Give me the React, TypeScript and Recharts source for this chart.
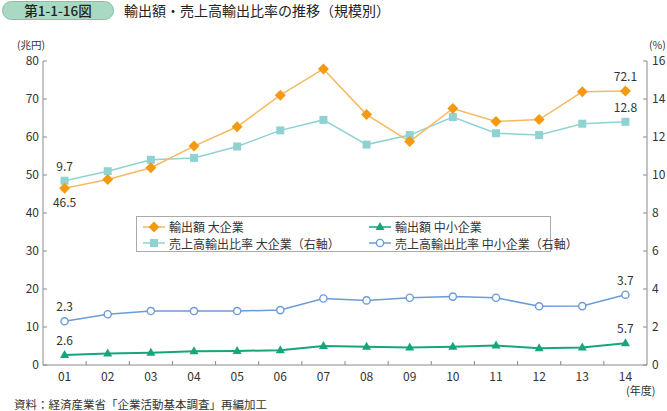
import React from 'react';
import { LineChart, Line, XAxis, YAxis, Legend, LabelList } from 'recharts';

const years = ['01', '02', '03', '04', '05', '06', '07', '08', '09', '10', '11', '12', '13', '14'];
// 兆円 (left axis)
const largeExport = [46.5, 48.8, 51.9, 57.6, 62.7, 71.0, 77.9, 65.9, 58.8, 67.5, 64.1, 64.6, 71.9, 72.1];
const smallExport = [2.6, 3.0, 3.2, 3.6, 3.7, 3.9, 5.0, 4.8, 4.6, 4.8, 5.1, 4.4, 4.6, 5.7];
// % (right axis)
const largeRatio = [9.7, 10.2, 10.8, 10.9, 11.5, 12.35, 12.9, 11.6, 12.1, 13.05, 12.2, 12.1, 12.7, 12.8];
const smallRatio = [2.3, 2.67, 2.84, 2.84, 2.84, 2.89, 3.5, 3.4, 3.54, 3.6, 3.54, 3.09, 3.1, 3.7];

const leftTicks = [0, 10, 20, 30, 40, 50, 60, 70, 80];
const rightTicks = [0, 2, 4, 6, 8, 10, 12, 14, 16];

const data = years.map((year, i) => ({
  year,
  largeExport: largeExport[i],
  smallExport: smallExport[i],
  largeRatio: largeRatio[i],
  smallRatio: smallRatio[i],
}));

const FONT = '"Noto Sans CJK JP", "Noto Sans", sans-serif';
const TEXT = '#333';
const AXIS = '#8a8a8a';

const W = 667;
const H = 411;
const PLOT_L = 43;
const PLOT_R = 647;
const HALF_BAND = (PLOT_R - PLOT_L) / years.length / 2;

const C = {
  orangeLine: '#f6b960',
  orange: '#f39a12',
  teal: '#90d2d2',
  green: '#17a57c',
  blue: '#6b9bd8',
};

const diamondDot = (p: any) => {
  const { cx, cy, index } = p;
  if (cx == null || cy == null) return <g key={`dm-${index}`} />;
  return (
    <path key={`dm-${index}`} d={`M${cx},${cy - 5.5}L${cx + 5.5},${cy}L${cx},${cy + 5.5}L${cx - 5.5},${cy}Z`} fill={C.orange} />
  );
};
const squareDot = (p: any) => {
  const { cx, cy, index } = p;
  if (cx == null || cy == null) return <g key={`sq-${index}`} />;
  return <rect key={`sq-${index}`} x={cx - 4} y={cy - 4} width={8} height={8} fill={C.teal} />;
};
const triDot = (p: any) => {
  const { cx, cy, index } = p;
  if (cx == null || cy == null) return <g key={`tr-${index}`} />;
  return <path key={`tr-${index}`} d={`M${cx},${cy - 5}L${cx + 4.5},${cy + 3}L${cx - 4.5},${cy + 3}Z`} fill={C.green} />;
};
const circleDot = (p: any) => {
  const { cx, cy, index } = p;
  if (cx == null || cy == null) return <g key={`ci-${index}`} />;
  return <circle key={`ci-${index}`} cx={cx} cy={cy} r={3.6} fill="#fff" stroke={C.blue} strokeWidth={1.4} />;
};

const endLabel = (dyFirst: number, dyLast: number) => (props: any) => {
  const { x, y, value, index } = props;
  if (index !== 0 && index !== years.length - 1) return null;
  const dy = index === 0 ? dyFirst : dyLast;
  return (
    <text x={x} y={y + dy} textAnchor="middle" fontSize={12} fill={TEXT} fontFamily={FONT}>
      {value}
    </text>
  );
};

const XTick = (props: any) => {
  const { x, y, payload, index } = props;
  return (
    <g>
      {index > 0 && <line x1={x - HALF_BAND} x2={x - HALF_BAND} y1={y} y2={y - 4} stroke={AXIS} />}
      <text x={x} y={y + 16} textAnchor="middle" fontSize={12} fill={TEXT} fontFamily={FONT}>
        {payload.value}
      </text>
    </g>
  );
};

const legendItems = [
  { key: 'largeExport', label: '輸出額 大企業', kind: 'diamond', line: C.orangeLine },
  { key: 'smallExport', label: '輸出額 中小企業', kind: 'tri', line: C.green },
  { key: 'largeRatio', label: '売上高輸出比率 大企業（右軸）', kind: 'square', line: C.teal },
  { key: 'smallRatio', label: '売上高輸出比率 中小企業（右軸）', kind: 'circle', line: C.blue },
];

const LegendIcon = ({ kind, line }: { kind: string; line: string }) => {
  const cx = 11;
  const cy = 6;
  let marker: React.ReactNode = null;
  if (kind === 'diamond') marker = diamondDot({ cx, cy, index: 0 });
  if (kind === 'tri') marker = triDot({ cx, cy, index: 0 });
  if (kind === 'square') marker = squareDot({ cx, cy, index: 0 });
  if (kind === 'circle') marker = circleDot({ cx, cy, index: 0 });
  return (
    <svg width={22} height={12} style={{ display: 'block', flexShrink: 0 }}>
      <line x1={0} x2={22} y1={cy} y2={cy} stroke={line} strokeWidth={1.5} />
      {marker}
    </svg>
  );
};

const renderLegend = () => (
  <div
    style={{
      boxSizing: 'border-box',
      width: 415,
      height: 36,
      border: '1px solid #aaa',
      background: '#fff',
      display: 'grid',
      gridTemplateColumns: '226px 186px',
      padding: '3px 0 0 6px',
      rowGap: 2,
      fontFamily: FONT,
      fontSize: 12,
      color: TEXT,
    }}
  >
    {legendItems.map((it) => (
      <div key={it.key} style={{ display: 'flex', alignItems: 'center', height: 13, lineHeight: '13px' }}>
        <LegendIcon kind={it.kind} line={it.line} />
        <span style={{ marginLeft: 4, whiteSpace: 'nowrap' }}>{it.label}</span>
      </div>
    ))}
  </div>
);

const abs = (left: number, top: number, extra: React.CSSProperties = {}): React.CSSProperties => ({
  position: 'absolute',
  left,
  top,
  fontFamily: FONT,
  color: TEXT,
  whiteSpace: 'nowrap',
  lineHeight: 1,
  ...extra,
});

export default function App() {
  return (
    <div style={{ position: 'absolute', left: 0, top: 0, width: W, height: H, background: '#fff', overflow: 'hidden' }}>
      <div
        style={{
          position: 'absolute',
          left: 2,
          top: 1,
          width: 112,
          height: 19,
          borderRadius: 10,
          background: '#a9d9c3',
          border: '1px solid #7fc2a4',
          boxSizing: 'border-box',
          textAlign: 'center',
          fontFamily: FONT,
          fontSize: 13.5,
          fontWeight: 500,
          lineHeight: '17px',
          color: '#222',
        }}
      >
        第1-1-16図
      </div>
      <div style={abs(124, 3, { fontSize: 14, color: '#222' })}>輸出額・売上高輸出比率の推移（規模別）</div>
      <div style={abs(17, 40, { fontSize: 10.5 })}>(兆円)</div>
      <div style={abs(649, 40, { fontSize: 10.5 })}>(%)</div>
      <div style={abs(626, 385, { fontSize: 11 })}>(年度)</div>
      <div style={abs(14, 399, { fontSize: 11.5 })}>資料：経済産業省「企業活動基本調査」再編加工</div>

      <div style={{ position: 'absolute', left: 0, top: 0 }}>
        <LineChart width={W} height={H} data={data} margin={{ top: 61, right: 5, bottom: 16, left: 8 }}>
          <XAxis
            dataKey="year"
            interval={0}
            height={30}
            padding={{ left: HALF_BAND, right: HALF_BAND }}
            axisLine={{ stroke: AXIS }}
            tickLine={false}
            tickSize={0}
            tickMargin={0}
            tick={<XTick />}
          />
          <YAxis
            yAxisId="l"
            width={35}
            domain={[0, 80]}
            ticks={leftTicks}
            interval={0}
            axisLine={{ stroke: AXIS }}
            tickLine={{ stroke: AXIS }}
            tickSize={-4}
            tickMargin={8}
            tick={{ fontSize: 12, fill: TEXT, fontFamily: FONT }}
          />
          <YAxis
            yAxisId="r"
            orientation="right"
            width={15}
            domain={[0, 16]}
            ticks={rightTicks}
            interval={0}
            axisLine={{ stroke: AXIS }}
            tickLine={{ stroke: AXIS }}
            tickSize={-4}
            tickMargin={9}
            tick={{ fontSize: 12, fill: TEXT, fontFamily: FONT }}
          />
          <Legend
            layout="vertical"
            align="center"
            verticalAlign="middle"
            content={renderLegend}
            wrapperStyle={{ left: 136, top: 216, width: 415, height: 36 }}
          />
          <Line
            yAxisId="r"
            dataKey="largeRatio"
            name="売上高輸出比率 大企業（右軸）"
            stroke={C.teal}
            strokeWidth={1.5}
            dot={squareDot}
            isAnimationActive={false}
          >
            <LabelList dataKey="largeRatio" content={endLabel(-10, -10)} />
          </Line>
          <Line
            yAxisId="l"
            dataKey="largeExport"
            name="輸出額 大企業"
            stroke={C.orangeLine}
            strokeWidth={1.5}
            dot={diamondDot}
            isAnimationActive={false}
          >
            <LabelList dataKey="largeExport" content={endLabel(19, -10)} />
          </Line>
          <Line
            yAxisId="r"
            dataKey="smallRatio"
            name="売上高輸出比率 中小企業（右軸）"
            stroke={C.blue}
            strokeWidth={1.5}
            dot={circleDot}
            isAnimationActive={false}
          >
            <LabelList dataKey="smallRatio" content={endLabel(-10, -10)} />
          </Line>
          <Line
            yAxisId="l"
            dataKey="smallExport"
            name="輸出額 中小企業"
            stroke={C.green}
            strokeWidth={2}
            dot={triDot}
            isAnimationActive={false}
          >
            <LabelList dataKey="smallExport" content={endLabel(-10, -10)} />
          </Line>
        </LineChart>
      </div>
    </div>
  );
}
